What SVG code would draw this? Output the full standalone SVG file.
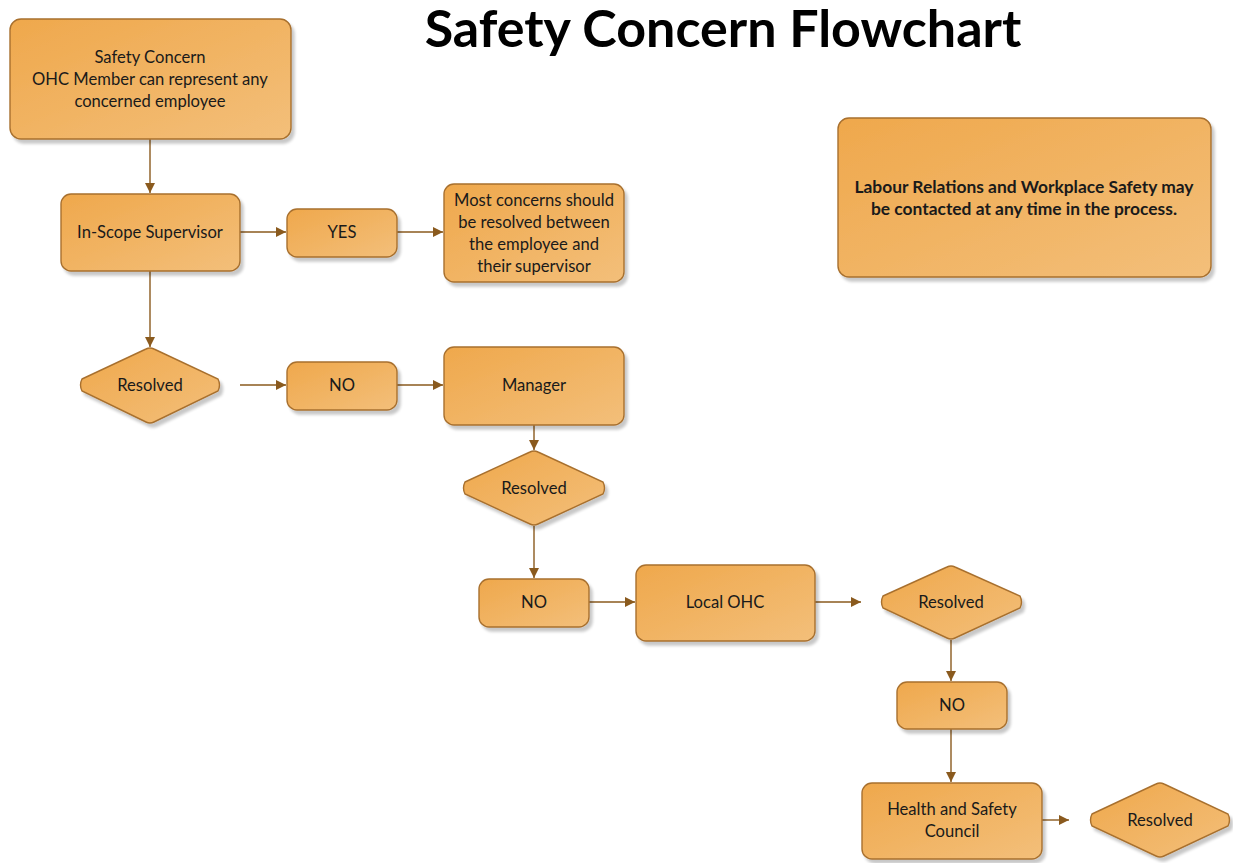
<svg xmlns="http://www.w3.org/2000/svg" width="1233" height="863" viewBox="0 0 1233 863">
<defs>
<linearGradient id="g" x1="0" y1="0" x2="1" y2="1">
<stop offset="0" stop-color="#EFA84C"/>
<stop offset="1" stop-color="#F3BF7A"/>
</linearGradient>
<filter id="sh" x="-10%" y="-10%" width="130%" height="140%">
<feGaussianBlur in="SourceAlpha" stdDeviation="1.5"/>
<feOffset dx="3" dy="4" result="b"/>
<feComponentTransfer><feFuncA type="linear" slope="0.22"/></feComponentTransfer>
<feMerge><feMergeNode/><feMergeNode in="SourceGraphic"/></feMerge>
</filter>
<marker id="ah" viewBox="0 0 10 10" refX="10" refY="5" markerWidth="10" markerHeight="10" markerUnits="userSpaceOnUse" orient="auto">
<path d="M0,0 L10,5 L0,10 z" fill="#8A5A1E"/>
</marker>
</defs>
<style>
.n{fill:url(#g);stroke:#A8702E;stroke-width:1.4;filter:url(#sh)}
.t{font-family:Lato,"Open Sans",sans-serif;font-size:16.6px;fill:#1a1a1a;text-anchor:middle}
.b{font-weight:bold;font-size:17.4px}
.c{stroke:#8A5A1E;stroke-width:1.4;fill:none;marker-end:url(#ah)}
.title{font-family:Lato,"Open Sans",sans-serif;font-weight:bold;font-size:52px;fill:#000;text-anchor:middle}
</style>
<rect width="1233" height="863" fill="#fff"/>
<text class="title" x="723" y="47">Safety Concern Flowchart</text>

<g id="connectors">
<line class="c" x1="150" y1="139" x2="150" y2="193"/>
<line class="c" x1="240" y1="232" x2="286" y2="232"/>
<line class="c" x1="397" y1="232" x2="443" y2="232"/>
<line class="c" x1="150" y1="271" x2="150" y2="347"/>
<line class="c" x1="240" y1="385" x2="286" y2="385"/>
<line class="c" x1="397" y1="385" x2="443" y2="385"/>
<line class="c" x1="534" y1="425" x2="534" y2="450"/>
<line class="c" x1="534" y1="526" x2="534" y2="578"/>
<line class="c" x1="589" y1="602" x2="635" y2="602"/>
<line class="c" x1="815" y1="602" x2="861" y2="602"/>
<line class="c" x1="951" y1="640" x2="951" y2="681"/>
<line class="c" x1="951" y1="729" x2="951" y2="782"/>
<line class="c" x1="1042" y1="820" x2="1069" y2="820"/>
</g>

<g id="safety-concern">
<rect class="n" x="10" y="19" width="281" height="120" rx="11"/>
<text class="t" x="150" y="63">Safety Concern</text>
<text class="t" x="150" y="85">OHC Member can represent any</text>
<text class="t" x="150" y="107">concerned employee</text>
</g>
<g id="in-scope-supervisor">
<rect class="n" x="61" y="194" width="179" height="77" rx="10"/>
<text class="t" x="150" y="238">In-Scope Supervisor</text>
</g>
<g id="yes">
<rect class="n" x="287" y="209" width="110" height="48" rx="10"/>
<text class="t" x="342" y="238">YES</text>
</g>
<g id="most-concerns">
<rect class="n" x="444" y="184" width="180" height="98" rx="10"/>
<text class="t" x="534" y="206">Most concerns should</text>
<text class="t" x="534" y="228">be resolved between</text>
<text class="t" x="534" y="250">the employee and</text>
<text class="t" x="534" y="272">their supervisor</text>
</g>
<g id="labour-relations">
<rect class="n" x="838" y="118" width="373" height="159" rx="11"/>
<text class="t b" x="1024" y="193">Labour Relations and Workplace Safety may</text>
<text class="t b" x="1024" y="215">be contacted at any time in the process.</text>
</g>
<g id="resolved-1">
<path class="n" d="M82,379 L146,349 Q150,347 154,349 L218,379 Q221,385 218,391 L154,422 Q150,424 146,422 L82,391 Q79,385 82,379 Z"/>
<text class="t" x="150" y="391">Resolved</text>
</g>
<g id="no-1">
<rect class="n" x="287" y="362" width="110" height="48" rx="10"/>
<text class="t" x="342" y="391">NO</text>
</g>
<g id="manager">
<rect class="n" x="444" y="347" width="180" height="78" rx="10"/>
<text class="t" x="534" y="391">Manager</text>
</g>
<g id="resolved-2">
<path class="n" d="M465,482 L530,452 Q534,450 538,452 L603,482 Q606,488 603,494 L538,524 Q534,526 530,524 L465,494 Q462,488 465,482 Z"/>
<text class="t" x="534" y="494">Resolved</text>
</g>
<g id="no-2">
<rect class="n" x="479" y="579" width="110" height="48" rx="10"/>
<text class="t" x="534" y="608">NO</text>
</g>
<g id="local-ohc">
<rect class="n" x="636" y="565" width="179" height="76" rx="10"/>
<text class="t" x="725" y="608">Local OHC</text>
</g>
<g id="resolved-3">
<path class="n" d="M883,596 L947,567 Q951,565 955,567 L1020,596 Q1023,602 1020,608 L955,638 Q951,640 947,638 L883,608 Q880,602 883,596 Z"/>
<text class="t" x="951" y="608">Resolved</text>
</g>
<g id="no-3">
<rect class="n" x="897" y="682" width="110" height="47" rx="10"/>
<text class="t" x="952" y="711">NO</text>
</g>
<g id="health-safety-council">
<rect class="n" x="862" y="783" width="180" height="76" rx="10"/>
<text class="t" x="952" y="815">Health and Safety</text>
<text class="t" x="952" y="837">Council</text>
</g>
<g id="resolved-4">
<path class="n" d="M1092,814 L1156,784 Q1160,782 1164,784 L1228,814 Q1231,820 1228,826 L1164,856 Q1160,858 1156,856 L1092,826 Q1089,820 1092,814 Z"/>
<text class="t" x="1160" y="826">Resolved</text>
</g>
</svg>
